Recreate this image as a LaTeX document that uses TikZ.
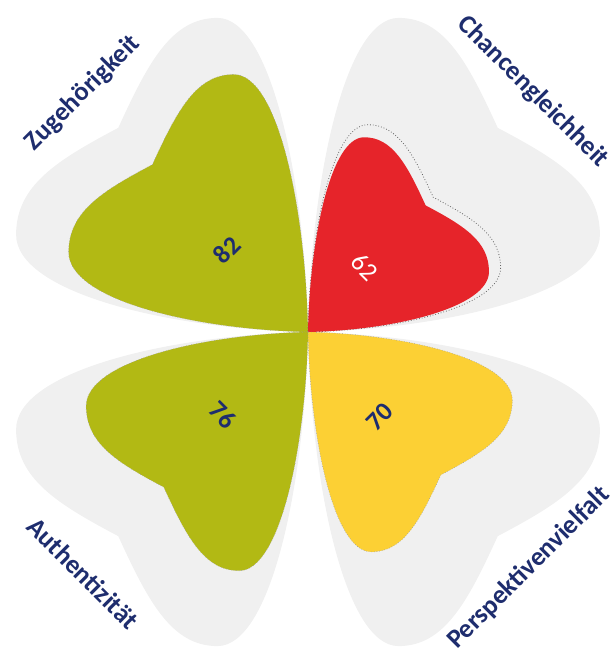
\documentclass[tikz,border=0pt]{standalone}
\usepackage{fontspec}
\setmainfont{Carlito}
\definecolor{leafgrey}{HTML}{F0F0F0}
\definecolor{olive}{HTML}{B2B914}
\definecolor{clred}{HTML}{E6242A}
\definecolor{clyellow}{HTML}{FCD034}
\definecolor{navy}{HTML}{1E2D6E}
\newcommand{\leafshape}{(0,0) .. controls (-3,145) and (-38,300) .. (-93,300)
 .. controls (-140,300) and (-164,258) .. (-195,195)
 .. controls (-258,164) and (-300,140) .. (-300,93)
 .. controls (-300,38) and (-145,3) .. (0,0) -- cycle}
\tikzset{
  bgleaf/.style={fill=leafgrey, draw=none},
  scoreleaf/.style={draw=gray!75, dotted, line width=0.6pt},
  refline/.style={draw=black!60, dotted, line width=0.8pt},
  catlabel/.style={font=\bfseries\fontsize{26.5}{30}\selectfont, text=navy, inner sep=0pt},
  scorelabel/.style={font=\bfseries\fontsize{26}{30}\selectfont, text=navy, inner sep=0pt},
}
\begin{document}
\begin{tikzpicture}[x=1pt,y=1pt]
\useasboundingbox (0,0) rectangle (615,665);
\begin{scope}[shift={(308,333)}, xscale=0.973, yscale=1.047]
  % background leaves
  \foreach \r in {0,-90,180,90}{
    \begin{scope}[rotate=\r]
      \path[bgleaf] \leafshape;
    \end{scope}
  }
  % Zugehoerigkeit 82
  \begin{scope}[rotate=0, scale=0.82]
    \path[scoreleaf, fill=olive] \leafshape;
  \end{scope}
  % Chancengleichheit 62
  \begin{scope}[rotate=-90, scale=0.66]
    \path[refline] \leafshape;
  \end{scope}
  \begin{scope}[rotate=-90, scale=0.62]
    \path[fill=clred] \leafshape;
  \end{scope}
  % Perspektivenvielfalt 70
  \begin{scope}[rotate=180, scale=0.70]
    \path[scoreleaf, fill=clyellow] \leafshape;
  \end{scope}
  % Authentizitaet 76
  \begin{scope}[rotate=90, scale=0.76]
    \path[scoreleaf, fill=olive] \leafshape;
  \end{scope}
\end{scope}
\node[catlabel, rotate=45] (zug) at (83,572) {Zugehörigkeit};
\node[catlabel, rotate=-45] (cha) at (533,573) {Chancengleichheit};
\node[catlabel, rotate=-45] (aut) at (83,92) {Authentizität};
\node[catlabel, rotate=45] (per) at (529,97) {Perspektivenvielfalt};
\node[scorelabel, rotate=45] (s82) at (227,415) {82};
\node[scorelabel, rotate=-45, font=\fontsize{26}{30}\selectfont, text=white] (s62) at (365,398) {62};
\node[scorelabel, rotate=-45] (s76) at (223,250) {76};
\node[scorelabel, rotate=45] (s70) at (380,248) {70};
\end{tikzpicture}
\end{document}
